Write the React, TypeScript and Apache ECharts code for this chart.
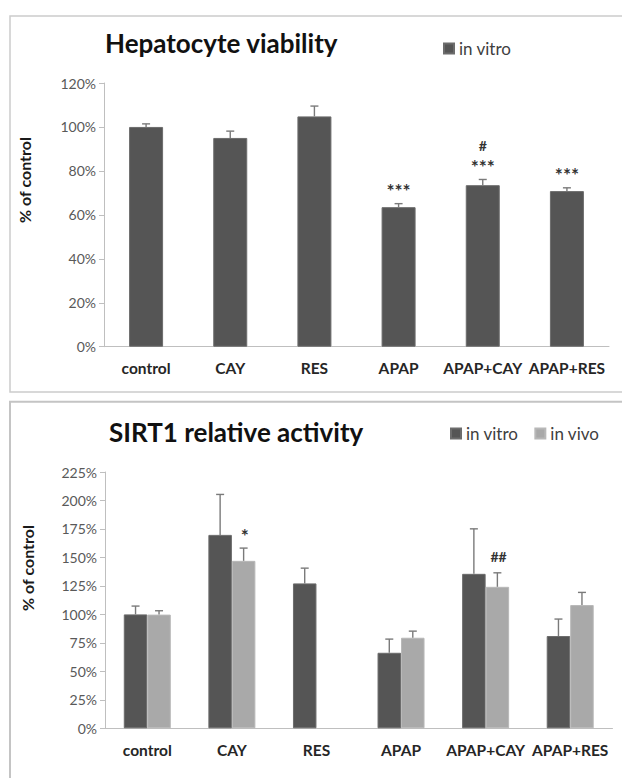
import React, { useEffect, useRef } from "react";
import * as echarts from "echarts";

// Treatment groups shared by both panels
const categories = ["control", "CAY", "RES", "APAP", "APAP+CAY", "APAP+RES"];

// Hepatocyte viability (% of control), in vitro: mean and SD
const viabilityInVitro = [100, 95, 104.8, 63.5, 73.5, 70.8];
const viabilityInVitroSD = [1.4, 3.1, 4.7, 1.6, 2.6, 1.5];
// significance marks: vs control (stars) and vs APAP (hash)
const viabilityStars = ["", "", "", "***", "***", "***"];
const viabilityHash = ["", "", "", "", "#", ""];

// SIRT1 relative activity (% of control): in vitro and in vivo
const sirt1InVitro = [100, 169.8, 127.2, 66.3, 135.6, 81];
const sirt1InVitroSD = [7.3, 35.5, 13.4, 12, 39.5, 14.9];
const sirt1InVivo: (number | null)[] = [99.8, 147, null, 79.5, 124.2, 108.2];
const sirt1InVivoSD: (number | null)[] = [3.4, 11.2, null, 5.8, 12.3, 11.1];
const sirt1InVivoMarks = ["", "*", "", "", "##", ""];

// Axis ranges
const viabilityAxis = { max: 120, interval: 20 };
const sirt1Axis = { max: 225, interval: 25 };

const FONT = "Lato, 'Open Sans', sans-serif";
const DARK = "#555555";
const LIGHT = "#a9a9a9";
const ERR = "#7a7a7a";

function errorTriples(values: (number | null)[], sd: (number | null)[]) {
  const out: number[][] = [];
  values.forEach((v, i) => {
    if (v != null && sd[i] != null) out.push([i, v, sd[i] as number]);
  });
  return out;
}

// [category, top of error bar] for every group carrying a mark
function markPairs(values: (number | null)[], sd: (number | null)[], ...marks: string[][]) {
  const out: number[][] = [];
  values.forEach((v, i) => {
    if (v != null && marks.some((m) => m[i])) out.push([i, v + (sd[i] ?? 0)]);
  });
  return out;
}

function errorBarRenderer(offset: number) {
  return (_params: any, api: any) => {
    const i = api.value(0);
    const v = api.value(1);
    const sd = api.value(2);
    const base = api.coord([i, v]);
    const tip = api.coord([i, v + sd]);
    const x = base[0] + offset;
    const style = { stroke: ERR, lineWidth: 1.4 };
    return {
      type: "group",
      children: [
        { type: "line", shape: { x1: x, y1: base[1], x2: x, y2: tip[1] }, style },
        { type: "line", shape: { x1: x - 4, y1: tip[1], x2: x + 4, y2: tip[1] }, style },
      ],
    };
  };
}

function markText(text: string, x: number, y: number) {
  const star = text.includes("*");
  return {
    type: "text",
    x,
    y,
    style: {
      text,
      fontFamily: FONT,
      fontSize: star ? 19 : 14,
      lineHeight: star ? 16 : 14,
      fontWeight: "bold",
      fill: "#333333",
      align: "center",
      verticalAlign: "middle",
    },
  };
}

// first mark sits just above the error bar, the next one stacked above it
function markRenderer(offset: number, lower: string[], upper?: string[]) {
  return (_params: any, api: any) => {
    const i = api.value(0);
    const p = api.coord([i, api.value(1)]);
    const x = p[0] + offset;
    const children: any[] = [];
    if (lower[i]) children.push(markText(lower[i], x, p[1] - (lower[i].includes("*") ? 13 : 16)));
    if (upper && upper[i]) children.push(markText(upper[i], x, p[1] - 34));
    return { type: "group", children };
  };
}

const yAxisCommon = {
  type: "value",
  min: 0,
  axisLine: { show: true, lineStyle: { color: "#bfbfbf", width: 1 } },
  axisTick: { show: true, length: 5, lineStyle: { color: "#bfbfbf" } },
  splitLine: { show: false },
  axisLabel: {
    formatter: (v: number) => `${v}%`,
    color: "#595959",
    fontFamily: FONT,
    fontSize: 14,
    margin: 8,
  },
};

const xAxisCommon = {
  type: "category",
  data: categories,
  axisTick: { show: false },
  axisLine: { lineStyle: { color: "#bfbfbf", width: 1 } },
  axisLabel: {
    color: "#262626",
    fontFamily: FONT,
    fontSize: 15.5,
    fontWeight: "bold",
    interval: 0,
  },
};

export default function App() {
  const ref = useRef<HTMLDivElement>(null);

  useEffect(() => {
    if (!ref.current) return;
    const chart = echarts.init(ref.current, null, { renderer: "svg" });

    chart.setOption({
      animation: false,
      backgroundColor: "#ffffff",
      grid: [
        { left: 104, right: 13, top: 83, height: 263.7 },
        { left: 105, right: 9.5, top: 472, height: 256.3 },
      ],
      xAxis: [
        { ...xAxisCommon, gridIndex: 0, axisLabel: { ...xAxisCommon.axisLabel, margin: 13 } },
        { ...xAxisCommon, gridIndex: 1, axisLabel: { ...xAxisCommon.axisLabel, margin: 14 } },
      ],
      yAxis: [
        { ...yAxisCommon, gridIndex: 0, max: viabilityAxis.max, interval: viabilityAxis.interval },
        { ...yAxisCommon, gridIndex: 1, max: sirt1Axis.max, interval: sirt1Axis.interval },
      ],
      legend: [
        {
          data: ["in vitro"],
          left: 438,
          top: 35,
          icon: "rect",
          itemWidth: 10,
          itemHeight: 10,
          selectedMode: false,
          textStyle: { fontFamily: FONT, fontSize: 17, color: "#404040" },
        },
        {
          data: ["in vitro", "in vivo"],
          left: 445,
          top: 420,
          icon: "rect",
          itemWidth: 10,
          itemHeight: 10,
          itemGap: 16,
          selectedMode: false,
          textStyle: { fontFamily: FONT, fontSize: 17, color: "#404040" },
        },
      ],
      series: [
        {
          name: "in vitro",
          type: "bar",
          xAxisIndex: 0,
          yAxisIndex: 0,
          data: viabilityInVitro,
          barWidth: 34,
          itemStyle: { color: DARK, borderColor: "#6c6c6c", borderWidth: 1 },
        },
        {
          type: "custom",
          xAxisIndex: 0,
          yAxisIndex: 0,
          data: errorTriples(viabilityInVitro, viabilityInVitroSD),
          renderItem: errorBarRenderer(0),
          z: 3,
        },
        {
          type: "custom",
          xAxisIndex: 0,
          yAxisIndex: 0,
          data: markPairs(viabilityInVitro, viabilityInVitroSD, viabilityStars, viabilityHash),
          renderItem: markRenderer(0, viabilityStars, viabilityHash),
          z: 4,
        },
        {
          name: "in vitro",
          type: "bar",
          xAxisIndex: 1,
          yAxisIndex: 1,
          data: sirt1InVitro,
          barWidth: 23.5,
          barGap: "0%",
          itemStyle: { color: DARK, borderColor: "#6c6c6c", borderWidth: 1 },
        },
        {
          name: "in vivo",
          type: "bar",
          xAxisIndex: 1,
          yAxisIndex: 1,
          data: sirt1InVivo,
          barWidth: 23.5,
          barGap: "0%",
          itemStyle: { color: LIGHT, borderColor: "#b8b8b8", borderWidth: 1 },
        },
        {
          type: "custom",
          xAxisIndex: 1,
          yAxisIndex: 1,
          data: errorTriples(sirt1InVitro, sirt1InVitroSD),
          renderItem: errorBarRenderer(-11.75),
          z: 3,
        },
        {
          type: "custom",
          xAxisIndex: 1,
          yAxisIndex: 1,
          data: errorTriples(sirt1InVivo, sirt1InVivoSD),
          renderItem: errorBarRenderer(11.75),
          z: 3,
        },
        {
          type: "custom",
          xAxisIndex: 1,
          yAxisIndex: 1,
          data: markPairs(sirt1InVivo, sirt1InVivoSD, sirt1InVivoMarks),
          renderItem: markRenderer(13, sirt1InVivoMarks),
          z: 4,
        },
      ],
      graphic: [
        // panel frames (open on the right and bottom edges of the page)
        {
          type: "rect",
          shape: { x: 10, y: 16, width: 660, height: 376 },
          style: { fill: "none", stroke: "#cccccc", lineWidth: 1.5 },
          silent: true,
        },
        {
          type: "rect",
          shape: { x: 10, y: 401.7, width: 660, height: 420 },
          style: { fill: "none", stroke: "#c4c4c4", lineWidth: 2 },
          silent: true,
        },
        // panel titles
        {
          type: "text",
          x: 105,
          y: 43,
          style: {
            text: "Hepatocyte viability",
            fontFamily: FONT,
            fontSize: 26,
            fontWeight: "bold",
            fill: "#111111",
            verticalAlign: "middle",
          },
        },
        {
          type: "text",
          x: 109,
          y: 432,
          style: {
            text: "SIRT1 relative activity",
            fontFamily: FONT,
            fontSize: 26,
            fontWeight: "bold",
            fill: "#111111",
            verticalAlign: "middle",
          },
        },
        // y-axis names
        {
          type: "text",
          x: 24,
          y: 180,
          rotation: Math.PI / 2,
          style: {
            text: "% of control",
            fontFamily: FONT,
            fontSize: 16,
            fontWeight: "bold",
            fill: "#1a1a1a",
            align: "center",
            verticalAlign: "middle",
          },
        },
        {
          type: "text",
          x: 27,
          y: 568,
          rotation: Math.PI / 2,
          style: {
            text: "% of control",
            fontFamily: FONT,
            fontSize: 16,
            fontWeight: "bold",
            fill: "#1a1a1a",
            align: "center",
            verticalAlign: "middle",
          },
        },
      ],
    });

    return () => chart.dispose();
  }, []);

  return (
    <div
      ref={ref}
      style={{ position: "absolute", left: 0, top: 0, width: 622, height: 778, background: "#fff" }}
    />
  );
}
